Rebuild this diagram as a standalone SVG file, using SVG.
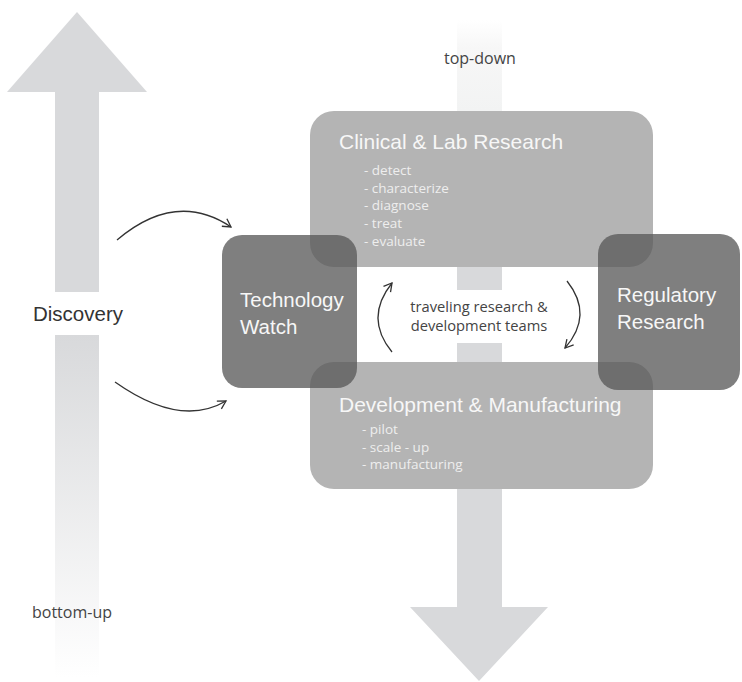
<svg xmlns="http://www.w3.org/2000/svg" width="742" height="682" viewBox="0 0 742 682">
  <style>
    .shaft { fill: #d8d9db; }
    .panel { fill: #b4b4b4; }
    .side { fill: #595959; fill-opacity: 0.77; }
    .title { font-family: "Liberation Sans", Arial, sans-serif; font-size: 21px; fill: #f7f7f7; }
    .side-label { font-family: "Liberation Sans", Arial, sans-serif; font-size: 20.5px; fill: #f7f7f7; }
    .item { font-family: "Open Sans", "Liberation Sans", sans-serif; font-size: 13.5px; fill: #eeeeee; }
    .note { font-family: "Open Sans", "Liberation Sans", sans-serif; font-size: 16px; fill: #444444; }
    .mid { font-family: "Open Sans", "Liberation Sans", sans-serif; font-size: 14.7px; fill: #444444; }
    .big { font-family: "Liberation Sans", Arial, sans-serif; font-size: 20.5px; fill: #333333; }
    .flow { fill: none; stroke: #333333; stroke-width: 1.3; marker-end: url(#open-tip); }
  </style>
  <defs>
    <marker id="open-tip" markerUnits="userSpaceOnUse" markerWidth="14" markerHeight="14" viewBox="-10 -7 14 14" refX="0" refY="0" orient="auto">
      <path d="M-8,-4.5 L0,0 L-8,4.5" fill="none" stroke="#333333" stroke-width="1.3"/>
    </marker>
    <linearGradient id="fade-down" x1="0" y1="335" x2="0" y2="678" gradientUnits="userSpaceOnUse">
      <stop offset="0" stop-color="#d8d9db"/>
      <stop offset="1" stop-color="#ffffff"/>
    </linearGradient>
    <linearGradient id="fade-in" x1="0" y1="20" x2="0" y2="111" gradientUnits="userSpaceOnUse">
      <stop offset="0" stop-color="#ffffff"/>
      <stop offset="0.3" stop-color="#f7f7f7"/>
      <stop offset="1" stop-color="#f2f3f3"/>
    </linearGradient>
  </defs>

  <!-- bottom-up arrow (left) -->
  <g id="bottom-up-arrow">
    <polygon class="shaft" points="77,12 147,92 99,92 99,292 55,292 55,92 7,92"/>
    <rect x="55" y="335" width="44" height="343" fill="url(#fade-down)"/>
    <text class="big" x="33" y="321">Discovery</text>
    <text class="note" x="32" y="618">bottom-up</text>
  </g>

  <!-- top-down arrow (centre) -->
  <g id="top-down-arrow">
    <rect x="457" y="20" width="45" height="91" fill="url(#fade-in)"/>
    <rect class="shaft" x="457" y="267" width="45" height="23"/>
    <rect class="shaft" x="457" y="343" width="45" height="19"/>
    <polygon class="shaft" points="457,489 502,489 502,607 548,607 479,681 410,607 457,607"/>
    <text class="note" x="444" y="64">top-down</text>
  </g>

  <!-- research panel -->
  <g id="clinical-lab-research">
    <rect class="panel" x="310" y="111" width="343" height="156" rx="24"/>
    <text class="title" x="339" y="149">Clinical &amp; Lab Research</text>
    <text class="item" x="364" y="175">- detect</text>
    <text class="item" x="364" y="193">- characterize</text>
    <text class="item" x="364" y="210">- diagnose</text>
    <text class="item" x="364" y="228">- treat</text>
    <text class="item" x="364" y="246">- evaluate</text>
  </g>

  <!-- development panel -->
  <g id="development-manufacturing">
    <rect class="panel" x="310" y="362" width="343" height="127" rx="24"/>
    <text class="title" x="339" y="412">Development &amp; Manufacturing</text>
    <text class="item" x="362" y="434">- pilot</text>
    <text class="item" x="362" y="452">- scale - up</text>
    <text class="item" x="362" y="469">- manufacturing</text>
  </g>

  <!-- side blocks -->
  <g id="technology-watch">
    <rect class="side" x="222" y="235" width="135" height="153" rx="20"/>
    <text class="side-label" x="240" y="307">Technology</text>
    <text class="side-label" x="240" y="334">Watch</text>
  </g>
  <g id="regulatory-research">
    <rect class="side" x="598" y="234" width="142" height="156" rx="20"/>
    <text class="side-label" x="617" y="302">Regulatory</text>
    <text class="side-label" x="617" y="329">Research</text>
  </g>

  <!-- centre caption -->
  <g id="traveling-teams">
    <text class="mid" x="479" y="312" text-anchor="middle">traveling research &amp;</text>
    <text class="mid" x="479" y="331" text-anchor="middle">development teams</text>
  </g>

  <!-- connectors -->
  <g id="connectors">
    <path class="flow" d="M117,240 Q176,190 231,227"/>
    <path class="flow" d="M115,382 Q180,428 226,401"/>
    <path class="flow" d="M392,352 Q364,318 392,283"/>
    <path class="flow" d="M567,281 Q594,315 565,348"/>
  </g>
</svg>
